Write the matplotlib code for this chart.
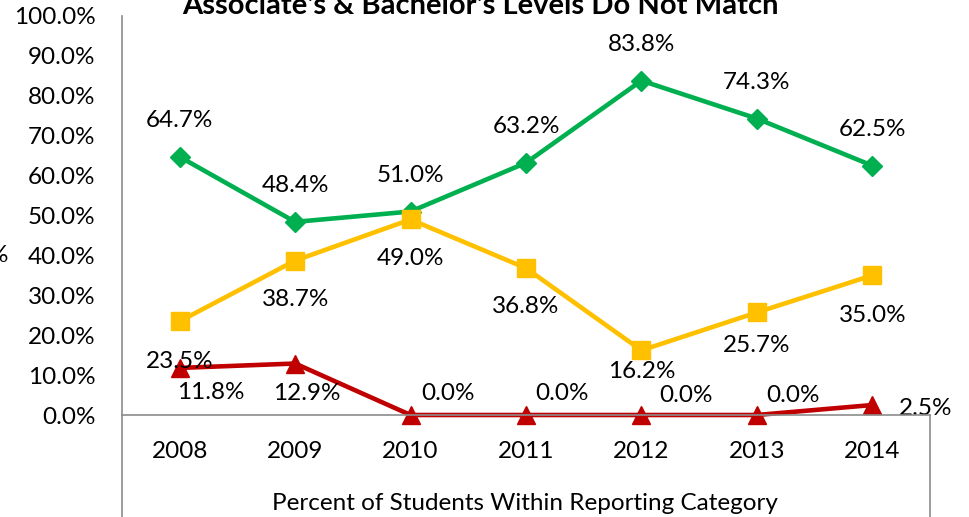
import matplotlib
matplotlib.use("Agg")
import matplotlib.pyplot as plt
from matplotlib.lines import Line2D

plt.rcParams['font.family'] = ['Lato', 'DejaVu Sans']

years = ["2008", "2009", "2010", "2011", "2012", "2013", "2014"]
green = [64.7, 48.4, 51.0, 63.2, 83.8, 74.3, 62.5]
yellow = [23.5, 38.7, 49.0, 36.8, 16.2, 25.7, 35.0]
red = [11.8, 12.9, 0.0, 0.0, 0.0, 0.0, 2.5]
yticks = [0, 10, 20, 30, 40, 50, 60, 70, 80, 90, 100]

# label offsets in pixels (dx, dy up)
green_off = [(0, 36)] * 7
yellow_off = [(0, -40), (0, -39), (0, -39), (0, -38), (0, -21), (0, -33), (0, -40)]
red_off = [(31, -25), (12, -30), (37, 21), (36, 22), (45, 19), (36, 19), (53, -3)]

W, H = 969, 517
FS = 17.5
fig = plt.figure(figsize=(W / 100, H / 100), dpi=100)
ax = fig.add_axes([122 / W, (H - 415) / H, (930 - 122) / W, (415 - 16) / H])

x = list(range(len(years)))
GREEN, YELLOW, RED = "#00B050", "#FFC000", "#C00000"
ax.plot(x, green, color=GREEN, lw=3.3, marker="D", ms=10.5, zorder=3, clip_on=False)
ax.plot(x, yellow, color=YELLOW, lw=3.3, marker="s", ms=13, zorder=4, clip_on=False)
ax.plot(x, red, color=RED, lw=3.3, marker="^", ms=13, zorder=5, clip_on=False)

k = 72 / 100
for series, offs in ((green, green_off), (yellow, yellow_off), (red, red_off)):
    for xi, v, (dx, dy) in zip(x, series, offs):
        ax.annotate(f"{v:.1f}%", (xi, v), xytext=(dx * k, dy * k), textcoords="offset points",
                    ha="center", va="center", fontsize=FS, color="black", zorder=10,
                    annotation_clip=False)

ax.set_xlim(-0.5, 6.5)
ax.set_ylim(0, 100)
ax.set_yticks(yticks)
ax.set_yticklabels([f"{t:.1f}%" for t in yticks], fontsize=FS)
ax.set_xticks(x)
ax.set_xticklabels(years, fontsize=FS)
ax.tick_params(axis="y", length=0, pad=19)
ax.tick_params(axis="x", length=0, pad=19)
for s in ax.spines.values():
    s.set_visible(False)
ax.set_facecolor("none")

gray = "#8C8C8C"
fig.add_artist(Line2D([122 / W, 122 / W], [0, 1 - 16 / H], transform=fig.transFigure, color=gray, lw=1.2))
fig.add_artist(Line2D([122 / W, 930 / W], [1 - 415 / H, 1 - 415 / H], transform=fig.transFigure, color=gray, lw=1.2))
fig.add_artist(Line2D([930 / W, 930 / W], [0, 1 - 415 / H], transform=fig.transFigure, color=gray, lw=1.2))

fig.text(525 / W, 1 - 503 / H, "Percent of Students Within Reporting Category", ha="center", va="center", fontsize=FS)
fig.text(480 / W, 1 - 14 / H, "Associate's & Bachelor's Levels Do Not Match", ha="center", va="baseline",
         fontsize=21, fontweight="bold")
fig.text(8 / W, 1 - 255 / H, "%", ha="right", va="center", fontsize=FS)

fig.savefig("out.png", dpi=100)
